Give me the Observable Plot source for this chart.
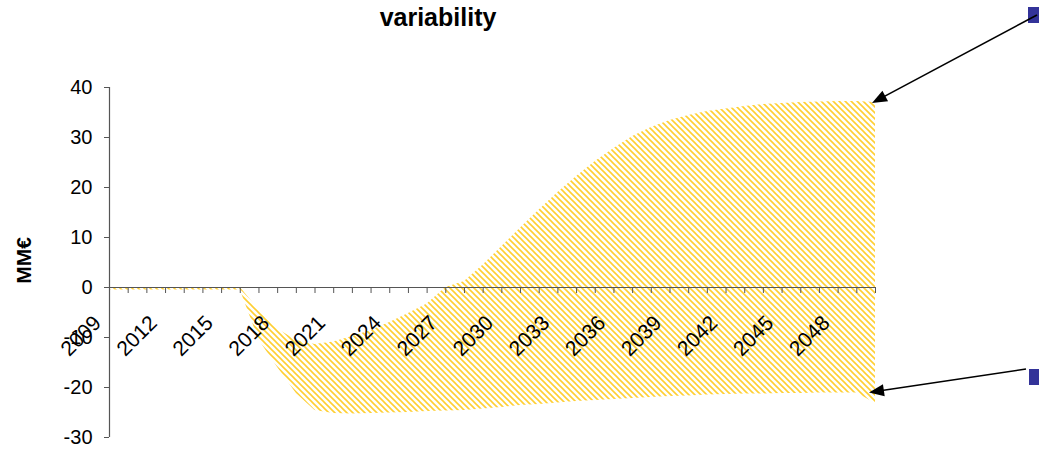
<!DOCTYPE html>
<html>
<head>
<meta charset="utf-8">
<script src="https://cdn.jsdelivr.net/npm/d3@7"></script>
<script src="https://cdn.jsdelivr.net/npm/@observablehq/plot@0.6"></script>
<style>
  html, body { margin: 0; padding: 0; background: #fff; }
  #chart { width: 1039px; height: 453px; overflow: hidden; }
</style>
</head>
<body>
<div id="chart"></div>
<script>
// Years on the category axis
const years = [2009, 2010, 2011, 2012, 2013, 2014, 2015, 2016, 2017, 2018,
               2019, 2020, 2021, 2022, 2023, 2024, 2025, 2026, 2027, 2028,
               2029, 2030, 2031, 2032, 2033, 2034, 2035, 2036, 2037, 2038,
               2039, 2040, 2041, 2042, 2043, 2044, 2045, 2046, 2047, 2048,
               2049, 2050];

// Upper bound of the variability band (MM€)
const upper = [0, 0, 0, 0, 0, 0, 0, 0, -4.5, -8.3,
               -10.6, -11.4, -10.9, -9.8, -8.6, -7.0, -5.2, -3.3, 0, 1.2,
               4.5, 8.2, 11.9, 15.5, 19.0, 22.2, 25.2, 27.8, 30.2, 32.0,
               33.4, 34.4, 35.2, 35.7, 36.2, 36.6, 36.8, 37.0, 37.1, 37.2,
               37.2, 37.0];

// Lower bound of the variability band (MM€)
const lower = [-0.5, -0.5, -0.5, -0.5, -0.5, -0.5, -0.5, -0.5, -10.5, -16.0,
               -21.2, -24.6, -25.2, -25.3, -25.2, -25.1, -25.0, -24.8, -24.7, -24.6,
               -24.3, -24.0, -23.6, -23.4, -23.1, -22.8, -22.6, -22.4, -22.2, -22.0,
               -21.8, -21.7, -21.5, -21.4, -21.3, -21.3, -21.2, -21.2, -21.1, -21.1,
               -21.1, -23.2];

// Labelled years and value ticks
const labelYears = [2009, 2012, 2015, 2018, 2021, 2024, 2027, 2030, 2033, 2036, 2039, 2042, 2045, 2048];
const yTicks = [-30, -20, -10, 0, 10, 20, 30, 40];

const title = "variability";
const yLabel = "MM€";

const rows = years.map((year, i) => ({year, upper: upper[i], lower: lower[i]}));

const font = "'Liberation Sans', Arial, sans-serif";
const axisColor = "#555";

const plot = Plot.plot({
  width: 1039,
  height: 453,
  marginLeft: 109,
  marginRight: 164,
  marginTop: 87,
  marginBottom: 16,
  style: {fontFamily: font, fontSize: "20px", color: "#000", background: "#fff", overflow: "visible"},
  x: {type: "linear", domain: [years[0], years[years.length - 1]], axis: null},
  y: {domain: [-30, 40], axis: null},
  marks: [
    // hatched band between the bounds
    Plot.areaY(rows, {x: "year", y1: "lower", y2: "upper", fill: "url(#hatch)"}),
    // value axis
    Plot.ruleX([years[0]], {stroke: axisColor, strokeWidth: 1.2}),
    Plot.axisY(yTicks, {anchor: "left", label: null, tickSize: 5, tickPadding: 12,
      tickFormat: (d) => String(d), stroke: axisColor, fill: "#000", fontSize: 20}),
    // category axis crossing at zero
    Plot.ruleY([0], {stroke: axisColor, strokeWidth: 1.2}),
    Plot.ruleX(years, {x: (d) => d, y1: (d) => 0, y2: (d) => 0, insetBottom: -6, stroke: axisColor}),
    Plot.text(labelYears, {x: (d) => d, y: (d) => 0, text: (d) => String(d), rotate: -45,
      textAnchor: "end", lineAnchor: "middle", dx: -12, dy: 32, fontSize: 21, fill: "#000"}),
    // axis title
    Plot.text([yLabel], {frameAnchor: "left", rotate: -90, textAnchor: "middle", lineAnchor: "middle",
      dx: -85.5, dy: -2, fontSize: 21, fontWeight: "bold", fill: "#000"}),
    // chart title
    Plot.text([title], {frameAnchor: "top", textAnchor: "middle", lineAnchor: "middle",
      dx: -54.5, dy: -70, fontSize: 25, fontWeight: "bold", fill: "#000"})
  ]
});

const svg = d3.select(plot);

// diagonal hatch used for the band
const pattern = svg.insert("defs", ":first-child")
  .append("pattern")
  .attr("id", "hatch")
  .attr("patternUnits", "userSpaceOnUse")
  .attr("width", 6)
  .attr("height", 6);
pattern.append("path")
  .attr("d", "M0,0L6,6M-1,5L1,7M5,-1L7,1")
  .attr("stroke", "#FFCF33")
  .attr("stroke-width", 1.6);

// callouts pointing at the ends of the band
const sx = plot.scale("x"), sy = plot.scale("y");
const lastX = sx.apply(years[years.length - 1]);
const callouts = [
  {marker: [1028, 7], tail: [1037, 15], tip: [lastX - 3, sy.apply(upper[upper.length - 1]) + 1]},
  {marker: [1029, 369], tail: [1026, 369], tip: [lastX - 6, sy.apply(lower[lower.length - 2])]}
];

const g = svg.append("g");
for (const c of callouts) {
  const [tx, ty] = c.tail, [hx, hy] = c.tip;
  const len = Math.hypot(hx - tx, hy - ty);
  const ux = (hx - tx) / len, uy = (hy - ty) / len;
  const headLen = 15, headHalf = 6;
  const bx = hx - ux * headLen, by = hy - uy * headLen;
  g.append("rect")
    .attr("x", c.marker[0]).attr("y", c.marker[1])
    .attr("width", 16).attr("height", 16)
    .attr("fill", "#333399");
  g.append("line")
    .attr("x1", tx).attr("y1", ty).attr("x2", bx + ux * 2).attr("y2", by + uy * 2)
    .attr("stroke", "#000").attr("stroke-width", 1.6);
  g.append("path")
    .attr("d", `M${hx},${hy}L${bx - uy * headHalf},${by + ux * headHalf}L${bx + uy * headHalf},${by - ux * headHalf}Z`)
    .attr("fill", "#000");
}

document.getElementById("chart").appendChild(plot);
</script>
</body>
</html>
